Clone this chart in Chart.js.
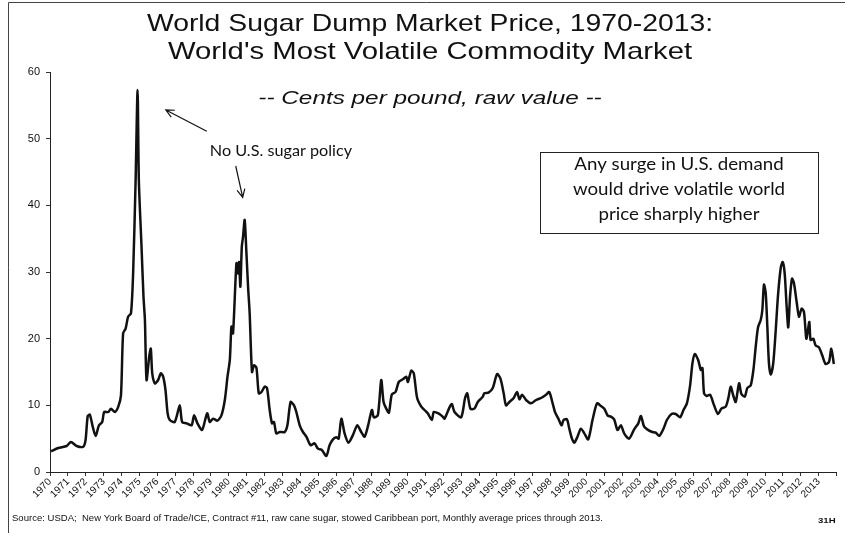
<!DOCTYPE html>
<html>
<head>
<meta charset="utf-8">
<script src="https://cdn.jsdelivr.net/npm/chart.js@4"></script>
<style>
  html, body { margin: 0; padding: 0; background: #fff; }
  #wrap { width: 845px; height: 533px; position: relative; }
</style>
</head>
<body>
<div id="wrap"><canvas id="myChart" width="845" height="533"></canvas></div>
<script>
// decimal year, cents per pound
const years = [
  1970.06, 1970.46, 1970.93, 1971.17, 1971.49, 1971.86, 1971.99, 1972.11, 1972.23, 1972.39,
  1972.55, 1972.74, 1972.92, 1973.03, 1973.26, 1973.41, 1973.63, 1973.82, 1973.97, 1974.09,
  1974.23, 1974.37, 1974.53, 1974.65, 1974.79, 1974.90, 1974.97, 1975.12, 1975.23, 1975.31,
  1975.40, 1975.55, 1975.64, 1975.72, 1975.87, 1976.05, 1976.20, 1976.33, 1976.46, 1976.58,
  1976.70, 1976.98, 1977.26, 1977.39, 1977.64, 1977.92, 1978.06, 1978.25, 1978.51, 1978.79,
  1978.94, 1979.12, 1979.37, 1979.59, 1979.78, 1979.93, 1980.06, 1980.15, 1980.24, 1980.43,
  1980.52, 1980.58, 1980.65, 1980.73, 1980.80, 1980.89, 1980.99, 1981.08, 1981.17, 1981.30,
  1981.41, 1981.55, 1981.68, 1981.83, 1982.01, 1982.14, 1982.29, 1982.42, 1982.53, 1982.66,
  1982.85, 1983.13, 1983.28, 1983.46, 1983.65, 1983.78, 1983.97, 1984.15, 1984.34, 1984.58,
  1984.80, 1984.99, 1985.21, 1985.46, 1985.64, 1985.83, 1986.02, 1986.15, 1986.30, 1986.48,
  1986.70, 1986.94, 1987.19, 1987.41, 1987.60, 1987.78, 1988.01, 1988.12, 1988.34, 1988.53,
  1988.66, 1988.81, 1988.96, 1989.12, 1989.33, 1989.51, 1989.74, 1989.93, 1990.02, 1990.21,
  1990.35, 1990.54, 1990.77, 1990.95, 1991.13, 1991.36, 1991.47, 1991.73, 1991.97, 1992.07,
  1992.35, 1992.48, 1992.63, 1993.00, 1993.22, 1993.34, 1993.52, 1993.74, 1993.93, 1994.21,
  1994.30, 1994.53, 1994.77, 1995.01, 1995.20, 1995.38, 1995.51, 1995.70, 1995.94, 1996.13,
  1996.26, 1996.41, 1996.63, 1996.91, 1997.19, 1997.47, 1997.75, 1997.93, 1998.12, 1998.25,
  1998.44, 1998.62, 1998.73, 1998.92, 1999.05, 1999.20, 1999.33, 1999.51, 1999.70, 1999.89,
  2000.11, 2000.35, 2000.60, 2000.82, 2001.01, 2001.19, 2001.38, 2001.56, 2001.75, 2001.94,
  2002.12, 2002.40, 2002.68, 2002.91, 2003.06, 2003.24, 2003.52, 2003.70, 2003.89, 2004.08,
  2004.32, 2004.51, 2004.77, 2005.01, 2005.25, 2005.44, 2005.63, 2005.81, 2005.94, 2006.07,
  2006.26, 2006.41, 2006.50, 2006.59, 2006.74, 2006.93, 2007.15, 2007.37, 2007.56, 2007.80,
  2007.95, 2008.08, 2008.23, 2008.36, 2008.55, 2008.68, 2008.87, 2009.01, 2009.20, 2009.35,
  2009.48, 2009.61, 2009.76, 2009.85, 2009.94, 2010.04, 2010.13, 2010.22, 2010.32, 2010.46,
  2010.60, 2010.73, 2010.88, 2010.99, 2011.10, 2011.21, 2011.30, 2011.40, 2011.51, 2011.62,
  2011.77, 2011.90, 2012.05, 2012.18, 2012.31, 2012.40, 2012.48, 2012.55, 2012.70, 2012.83,
  2013.02, 2013.20, 2013.39, 2013.58, 2013.71, 2013.85
];
const prices = [
  3.1, 3.6, 3.9, 4.5, 3.9, 3.8, 4.8, 8.4, 8.6, 6.8,
  5.4, 7.0, 7.5, 9.0, 9.0, 9.5, 9.0, 9.8, 11.5, 20.8,
  21.5, 23.3, 23.8, 29.8, 43.8, 57.3, 43.8, 33.8, 26.3, 22.8,
  13.8, 17.3, 18.5, 14.8, 13.3, 13.8, 14.8, 14.3, 12.3, 8.8,
  7.8, 7.5, 10.0, 7.5, 7.3, 7.0, 8.5, 7.3, 6.3, 8.8,
  7.5, 8.0, 7.7, 8.5, 10.8, 14.3, 16.8, 21.8, 20.8, 31.3,
  29.8, 31.5, 27.8, 33.8, 35.3, 37.8, 32.8, 27.8, 23.8, 15.0,
  16.0, 15.6, 11.8, 12.0, 12.8, 12.6, 9.3, 7.3, 7.5, 5.8,
  6.0, 6.0, 7.0, 10.5, 10.0, 9.0, 7.0, 6.0, 5.3, 4.0,
  4.3, 3.5, 3.3, 2.4, 4.0, 4.9, 5.2, 5.0, 8.0, 5.8,
  4.4, 5.5, 7.0, 6.0, 5.3, 6.8, 9.3, 8.2, 8.5, 13.8,
  10.5, 9.5, 8.9, 11.6, 12.0, 13.5, 13.9, 14.3, 13.5, 15.2,
  14.8, 11.1, 9.8, 9.3, 8.8, 7.8, 9.0, 8.8, 8.3, 8.0,
  9.7, 10.2, 9.0, 8.2, 11.1, 11.8, 9.5, 9.5, 10.5, 11.3,
  11.8, 11.9, 12.6, 14.7, 14.0, 11.8, 10.0, 10.5, 11.1, 12.0,
  10.9, 11.6, 10.8, 10.3, 10.8, 11.1, 11.6, 12.0, 10.3, 9.0,
  8.0, 7.0, 7.8, 7.9, 6.5, 5.0, 4.4, 5.3, 6.5, 5.8,
  4.9, 7.8, 10.3, 9.9, 9.5, 8.5, 8.3, 7.9, 6.3, 7.0,
  5.8, 5.0, 6.4, 7.3, 8.4, 6.8, 6.2, 6.0, 5.9, 5.4,
  6.5, 7.8, 8.7, 8.7, 8.2, 9.3, 10.3, 13.0, 16.3, 17.7,
  16.8, 15.3, 15.6, 11.8, 11.4, 11.6, 10.0, 8.7, 9.5, 9.8,
  11.1, 12.8, 11.4, 10.5, 13.3, 11.7, 11.3, 12.6, 13.0, 15.3,
  18.8, 21.7, 22.8, 24.3, 28.1, 26.8, 21.8, 16.3, 14.6, 16.3,
  21.3, 26.6, 30.6, 31.5, 29.8, 24.8, 21.7, 26.3, 29.0, 28.3,
  25.5, 23.3, 24.5, 24.0, 20.0, 21.3, 22.5, 19.8, 20.0, 19.0,
  18.7, 17.5, 16.2, 16.5, 18.5, 16.2
];
const yTicks = [0, 10, 20, 30, 40, 50, 60];
const firstYear = 1970;
const lastYear = 2013;

const titleLines = ['World Sugar Dump Market Price, 1970-2013:', "World's Most Volatile Commodity Market"];
const subtitle = '-- Cents per pound, raw value --';
const noteText = 'No U.S. sugar policy';
const boxLines = ['Any surge in U.S. demand', 'would drive volatile world', 'price sharply higher'];
const sourceText = 'Source: USDA;  New York Board of Trade/ICE, Contract #11, raw cane sugar, stowed Caribbean port, Monthly average prices through 2013.';
const pageTag = '31H';

const arrow = (ctx, x1, y1, x2, y2) => {
    // line from (x1,y1) with an open head at (x2,y2)
    const a = Math.atan2(y2 - y1, x2 - x1);
    const h = 9;
    ctx.beginPath();
    ctx.moveTo(x1, y1);
    ctx.lineTo(x2, y2);
    ctx.moveTo(x2 - h * Math.cos(a - 0.45), y2 - h * Math.sin(a - 0.45));
    ctx.lineTo(x2, y2);
    ctx.lineTo(x2 - h * Math.cos(a + 0.45), y2 - h * Math.sin(a + 0.45));
    ctx.stroke();
};

// the original scan is a bit stretched sideways, so text gets a horizontal scale
const wideText = (ctx, text, x, y, sx) => {
    ctx.save();
    ctx.translate(x, y);
    ctx.scale(sx, 1);
    ctx.fillText(text, 0, 0);
    ctx.restore();
};

const decor = {
    id: 'decor',
    afterDraw(chart) {
        const ctx = chart.ctx;
        const xs = chart.scales.x;
        const ys = chart.scales.y;
        ctx.save();
        // frame
        ctx.strokeStyle = '#444';
        ctx.lineWidth = 1;
        ctx.beginPath();
        ctx.moveTo(8.5, 533);
        ctx.lineTo(8.5, 2.5);
        ctx.lineTo(845, 2.5);
        ctx.stroke();

        ctx.fillStyle = '#111';
        ctx.textAlign = 'center';
        ctx.textBaseline = 'alphabetic';
        ctx.font = '24px "Liberation Sans", Arial, sans-serif';
        wideText(ctx, titleLines[0], 430, 31, 1.18);
        wideText(ctx, titleLines[1], 430, 59, 1.22);
        ctx.font = 'italic 19px "Liberation Sans", Arial, sans-serif';
        wideText(ctx, subtitle, 430, 104, 1.28);

        // note + arrows
        ctx.font = '15px Lato, sans-serif';
        ctx.textAlign = 'left';
        ctx.textBaseline = 'middle';
        wideText(ctx, noteText, xs.getPixelForValue(1978.94), ys.getPixelForValue(48.1), 1.08);
        ctx.strokeStyle = '#111';
        ctx.lineWidth = 1.2;
        arrow(ctx, xs.getPixelForValue(1978.77), ys.getPixelForValue(51.1), xs.getPixelForValue(1976.48), ys.getPixelForValue(54.3));
        arrow(ctx, xs.getPixelForValue(1980.39), ys.getPixelForValue(45.9), xs.getPixelForValue(1980.78), ys.getPixelForValue(41.2));

        // box
        ctx.lineWidth = 1;
        ctx.strokeStyle = '#222';
        ctx.strokeRect(540.5, 152.5, 278, 81);
        ctx.font = '17px Lato, sans-serif';
        ctx.textAlign = 'center';
        boxLines.forEach((t, i) => wideText(ctx, t, 679, 165 + i * 25, 1.1));

        // footer
        ctx.font = '9px "Liberation Sans", Arial, sans-serif';
        ctx.textAlign = 'left';
        wideText(ctx, sourceText, 12, 519, 1.06);
        ctx.font = 'bold 8px "Liberation Sans", Arial, sans-serif';
        wideText(ctx, pageTag, 818, 521, 1.2);
        ctx.restore();
    }
};

const ctx = document.getElementById('myChart').getContext('2d');

const config = {
    type: 'line',
    data: {
        datasets: [{
            label: 'Sugar price',
            data: years.map((y, i) => ({ x: y, y: prices[i] })),
            borderColor: '#111',
            borderWidth: 2.5,
            pointRadius: 0,
            tension: 0.25,
            fill: false
        }]
    },
    options: {
        responsive: false,
        animation: false,
        layout: { padding: { top: 72, left: 0, right: 7, bottom: 0 } },
        scales: {
            x: {
                type: 'linear',
                min: firstYear,
                max: lastYear + 1,
                afterFit: (s) => { s.height = 61; },
                afterBuildTicks: (s) => {
                    s.ticks = [];
                    for (let v = firstYear; v <= lastYear + 1; v++) s.ticks.push({ value: v });
                },
                grid: { drawOnChartArea: false, tickLength: 4, color: '#333' },
                border: { color: '#222', width: 1 },
                ticks: {
                    autoSkip: false,
                    maxRotation: 45,
                    minRotation: 45,
                    padding: 0,
                    color: '#111',
                    font: { family: '"Liberation Sans", Arial, sans-serif', size: 10 },
                    callback: (v) => (v <= lastYear ? String(v) : '')
                }
            },
            y: {
                min: 0,
                max: 60,
                afterFit: (s) => { s.width = 50; },
                afterBuildTicks: (s) => { s.ticks = yTicks.map(v => ({ value: v })); },
                grid: { drawOnChartArea: false, tickLength: 4, color: '#333' },
                border: { color: '#222', width: 1 },
                ticks: {
                    padding: 6,
                    color: '#111',
                    font: { family: '"Liberation Sans", Arial, sans-serif', size: 11 }
                }
            }
        },
        plugins: {
            legend: { display: false },
            tooltip: { enabled: false }
        }
    },
    plugins: [decor]
};

let myChart = new Chart(ctx, config);
</script>
</body>
</html>
